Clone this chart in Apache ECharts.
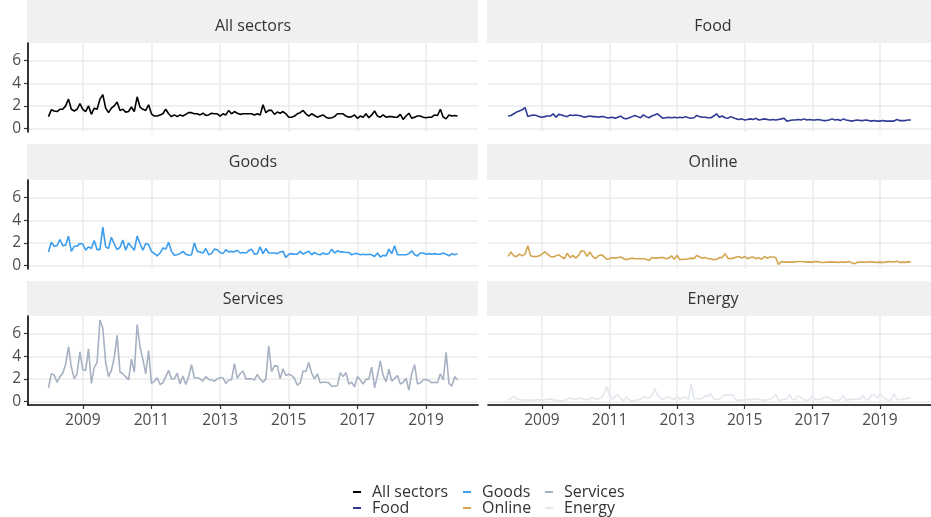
<!DOCTYPE html>
<html>
<head>
<meta charset="utf-8">
<script src="https://cdn.jsdelivr.net/npm/echarts@6/dist/echarts.min.js"></script>
<style>
  html, body { margin: 0; padding: 0; background: #fff; }
  #chart { width: 931px; height: 517px; }
</style>
</head>
<body>
<div id="chart"></div>
<script>
// monthly values, Jan 2008 .. Dec 2019
const startYear = 2008;
const sectors = ['All sectors', 'Food', 'Goods', 'Online', 'Services', 'Energy'];
const sectorColors = ['#000000', '#2f3a94', '#3b9ded', '#d4a550', '#a6b1c2', '#e3e7ee'];
const xTicks = [2009, 2011, 2013, 2015, 2017, 2019];
const yTicks = [0, 2, 4, 6];

const allSectors = [
  1.05, 1.65, 1.55, 1.5, 1.7, 1.7, 2.0, 2.6, 1.7, 1.55, 1.7, 2.2,
  1.7, 1.5, 2.0, 1.25, 1.8, 1.7, 2.6, 3.0, 1.8, 1.4, 1.8, 2.0,
  2.35, 1.6, 1.7, 1.45, 1.5, 1.9, 1.5, 2.8, 1.9, 1.7, 1.6, 2.1,
  1.3, 1.1, 1.1, 1.2, 1.3, 1.7, 1.3, 1.05, 1.2, 1.05, 1.2, 1.1,
  1.25, 1.4, 1.4, 1.3, 1.3, 1.2, 1.35, 1.15, 1.2, 1.35, 1.3, 1.3,
  1.1, 1.3, 1.2, 1.6, 1.3, 1.5, 1.35, 1.25, 1.3, 1.3, 1.3, 1.3,
  1.2, 1.3, 1.2, 2.1, 1.4, 1.6, 1.6, 1.25, 1.45, 1.35, 1.5, 1.3,
  1.0, 1.0, 1.1, 1.3, 1.4, 1.6, 1.3, 1.1, 1.3, 1.15, 1.0, 1.1,
  1.2, 1.0, 0.9, 0.95, 1.05, 1.3, 1.3, 1.3, 1.1, 1.0, 1.05, 1.2,
  0.9, 1.1, 1.0, 1.3, 0.95, 1.2, 1.55, 1.1, 1.0, 1.2, 1.0, 1.05,
  1.05, 1.0, 1.0, 1.25, 0.8, 1.1, 1.35, 0.9, 1.0, 1.1, 1.1, 1.0,
  0.95, 1.0, 1.0, 1.2, 1.15, 1.7, 1.0, 0.85, 1.2, 1.1, 1.15, 1.1
];
const food = [
  1.1, 1.15, 1.3, 1.45, 1.55, 1.65, 1.85, 1.05, 1.15, 1.2, 1.15, 1.05,
  1.0, 1.05, 1.1, 1.1, 1.3, 1.0, 1.25, 1.2, 1.1, 1.05, 1.2, 1.15,
  1.2, 1.15, 1.1, 1.0, 1.05, 1.1, 1.05, 1.05, 1.0, 1.05, 1.05, 0.95,
  0.95, 1.0, 0.9, 1.0, 1.1, 0.9, 0.85, 0.95, 1.05, 1.15, 1.05, 0.95,
  1.2, 1.05, 0.95, 1.1, 1.2, 1.3, 1.1, 0.9, 0.95, 1.0, 0.95, 1.0,
  0.95, 1.0, 0.95, 1.05, 0.95, 0.9, 0.95, 1.15, 1.05, 1.0, 1.0, 0.95,
  0.95, 1.1, 1.3, 1.0, 1.1, 0.95, 0.9, 1.05, 0.95, 0.85, 0.8, 0.85,
  0.75, 0.8, 0.85, 0.8, 0.9, 0.75, 0.8, 0.85, 0.8, 0.75, 0.8, 0.75,
  0.8, 0.85, 0.9, 0.65, 0.7, 0.75, 0.75, 0.8, 0.75, 0.85, 0.75, 0.8,
  0.75, 0.75, 0.8, 0.75, 0.7, 0.7, 0.75, 0.85, 0.75, 0.8, 0.7, 0.85,
  0.75, 0.7, 0.65, 0.7, 0.75, 0.7, 0.7, 0.75, 0.7, 0.65, 0.7, 0.65,
  0.65, 0.7, 0.65, 0.65, 0.65, 0.65, 0.8, 0.7, 0.7, 0.7, 0.75, 0.75
];
const goods = [
  1.2, 2.05, 1.7, 1.75, 2.3, 1.75, 1.8, 2.6, 1.25, 1.7, 1.7, 1.95,
  1.9, 1.35, 1.65, 1.5, 2.2, 1.4, 1.4, 3.4, 1.65, 1.5, 2.5, 1.9,
  1.4, 1.6, 2.25, 1.35, 2.0, 1.65, 1.35, 2.6, 1.95, 1.35, 1.95, 1.85,
  1.25, 1.05, 0.85, 1.1, 1.55, 1.45, 2.05, 1.25, 0.9, 0.95, 1.05, 1.25,
  1.0, 0.9, 0.95, 2.0, 1.25, 1.2, 1.1, 1.5, 0.95, 1.05, 1.45, 1.4,
  1.15, 1.05, 1.4, 1.2, 1.25, 1.2, 1.35, 1.1, 1.15, 1.1, 1.3, 1.45,
  1.0, 1.05, 1.65, 1.05, 1.5, 1.1, 1.1, 1.1, 1.05, 1.2, 1.25, 0.7,
  1.0, 1.05, 1.0, 1.0, 1.25, 1.0, 1.15, 1.25, 0.95, 1.15, 1.0, 0.95,
  1.1, 1.0, 1.05, 1.45, 1.1, 1.3, 1.2, 1.2, 1.15, 1.15, 0.95, 1.05,
  1.05, 0.95, 1.0, 0.95, 1.0, 0.95, 0.8, 1.1, 0.75, 0.9, 0.85, 1.45,
  1.05, 1.75, 0.95, 0.95, 0.95, 0.95, 1.05, 1.3, 0.95, 0.85, 1.1, 1.1,
  1.0, 1.05, 1.0, 1.05, 1.0, 1.0, 1.1, 1.0, 0.85, 1.05, 0.95, 1.05
];
const online = [
  0.8, 1.2, 0.85, 0.8, 1.0, 0.85, 1.0, 1.75, 0.85, 0.8, 0.8, 0.85,
  1.0, 1.2, 1.0, 0.8, 0.75, 0.85, 0.95, 0.75, 0.6, 1.1, 0.7, 0.9,
  0.65, 0.9, 1.3, 1.25, 0.8, 1.2, 0.8, 0.6, 0.85, 0.95, 0.8, 0.55,
  0.6, 0.7, 0.65, 0.7, 0.75, 0.6, 0.5, 0.6, 0.65, 0.6, 0.6, 0.6,
  0.6, 0.55, 0.45, 0.7, 0.65, 0.65, 0.7, 0.7, 0.6, 0.65, 0.85, 0.55,
  0.9, 0.5, 0.55, 0.55, 0.6, 0.65, 0.6, 0.9, 0.75, 0.65, 0.7, 0.6,
  0.6, 0.5, 0.55, 0.7, 0.7, 1.05, 0.65, 0.6, 0.65, 0.75, 0.8, 0.65,
  0.8, 0.6, 0.7, 0.75, 0.6, 0.7, 0.55, 0.8, 0.65, 0.75, 0.75, 0.7,
  0.1, 0.35, 0.3, 0.32, 0.3, 0.3, 0.32, 0.35, 0.35, 0.33, 0.3, 0.32,
  0.3, 0.35, 0.32, 0.28, 0.27, 0.3, 0.3, 0.32, 0.3, 0.28, 0.3, 0.3,
  0.28, 0.35, 0.25, 0.15, 0.28, 0.3, 0.3, 0.28, 0.32, 0.33, 0.3, 0.28,
  0.3, 0.28, 0.3, 0.35, 0.33, 0.3, 0.38, 0.28, 0.3, 0.28, 0.32, 0.3
];
const services = [
  1.2, 2.45, 2.35, 1.7, 2.2, 2.5, 3.3, 4.85, 3.05, 2.0, 2.45, 4.4,
  2.8, 2.75, 4.65, 1.6, 3.0, 3.45, 7.2, 6.5, 3.45, 2.2, 2.75, 3.9,
  5.85, 2.6, 2.45, 2.2, 1.9, 3.75, 2.6, 6.8, 4.8, 3.75, 2.45, 4.5,
  1.6, 1.8, 2.1, 1.5, 1.65, 2.2, 2.75, 2.0, 2.0, 2.5, 1.55, 2.25,
  1.5, 2.2, 3.25, 2.1, 2.1, 2.0, 1.8, 2.2, 1.95, 1.9, 1.8, 2.0,
  2.1, 2.1, 1.6, 1.9, 1.9, 3.35, 2.05, 2.45, 2.7, 2.0, 2.0, 2.0,
  1.9, 2.4, 2.0, 1.7, 2.0, 4.9, 2.65, 3.15, 3.15, 2.0, 2.9, 2.3,
  2.4, 2.3, 2.05, 1.45, 1.65, 2.7, 2.65, 3.45, 2.5, 2.0, 2.45, 1.65,
  1.7, 1.7, 1.65, 1.35, 1.35, 1.4, 2.55, 2.2, 2.55, 1.55, 1.7, 1.3,
  2.2, 1.9, 1.55, 1.95, 2.0, 3.05, 1.2, 2.3, 3.6, 2.3, 1.75, 2.85,
  1.8, 2.05, 2.3, 1.55, 1.7, 2.05, 1.0, 2.5, 3.25, 1.55, 1.65, 1.9,
  1.95, 1.85, 1.65, 1.7, 1.65, 2.45, 1.9, 4.35, 1.6, 1.35, 2.2, 1.9
];
const energy = [
  0.1, 0.3, 0.45, 0.25, 0.15, 0.15, 0.1, 0.15, 0.1, 0.1, 0.15, 0.15,
  0.1, 0.15, 0.2, 0.25, 0.15, 0.1, 0.1, 0.05, 0.1, 0.2, 0.3, 0.25,
  0.2, 0.25, 0.3, 0.2, 0.15, 0.25, 0.35, 0.2, 0.25, 0.3, 0.7, 1.3,
  0.55, 0.2, 0.45, 0.6, 0.25, 0.05, 0.4, 0.15, 0.05, 0.1, 0.15, 0.2,
  0.45, 0.35, 0.3, 0.5, 1.15, 0.6, 0.3, 0.2, 0.35, 0.4, 0.25, 0.2,
  0.4, 0.2, 0.3, 0.4, 0.15, 1.55, 0.25, 0.25, 0.2, 0.3, 0.5, 0.45,
  0.7, 0.2, 0.2, 0.2, 0.4, 0.6, 0.55, 0.6, 0.55, 0.1, 0.1, 0.15,
  0.1, 0.2, 0.15, 0.25, 0.2, 0.2, 0.15, 0.1, 0.15, 0.2, 0.35, 0.65,
  0.1, 0.15, 0.2, 0.25, 0.6, 0.15, 0.2, 0.5, 0.35, 0.15, 0.1, 0.15,
  0.5, 0.2, 0.15, 0.2, 0.3, 0.4, 0.35, 0.15, 0.1, 0.1, 0.2, 0.55,
  0.1, 0.15, 0.2, 0.2, 0.25, 0.2, 0.5, 0.2, 0.15, 0.55, 0.6, 0.3,
  0.65, 0.45, 0.2, 0.1, 0.15, 0.7, 0.2, 0.15, 0.2, 0.25, 0.3, 0.35
];
const sectorValues = [allSectors, food, goods, online, services, energy];

const FONT = 'Open Sans';
const colLeft = [28, 488];
const panelWidth = 450;
const panelTop = [43, 180, 316];
const panelHeight = 89;
const stripTop = [0, 144, 281];
const stripMid = [26, 162, 299];

const chart = echarts.init(document.getElementById('chart'), null, { renderer: 'canvas' });

let grids = [], xAxes = [], yAxes = [], series = [], graphics = [];

sectors.forEach((name, i) => {
  const col = i % 2;
  const row = Math.floor(i / 2);
  const bottomRow = row === 2;
  const leftCol = col === 0;

  grids.push({
    left: colLeft[col], top: panelTop[row],
    width: panelWidth, height: panelHeight,
    containLabel: false
  });

  xAxes.push({
    type: 'value', gridIndex: i,
    min: 2007.404, max: 2020.513,
    axisLine: { show: bottomRow, onZero: false, lineStyle: { color: '#000', width: 1.6 } },
    axisTick: { show: bottomRow, customValues: xTicks, length: 4, lineStyle: { color: '#333', width: 1.2 } },
    axisLabel: {
      show: bottomRow, customValues: xTicks, margin: 8,
      color: '#4d4d4d', fontSize: 15.5, fontFamily: FONT,
      formatter: v => String(v)
    },
    splitLine: { show: true, lineStyle: { color: '#ebebeb', width: 1.5 } }
  });

  yAxes.push({
    type: 'value', gridIndex: i,
    min: -0.31, max: 7.56,
    axisLine: { show: leftCol, onZero: false, lineStyle: { color: '#000', width: 1.6 } },
    axisTick: { show: leftCol, customValues: yTicks, length: 4, lineStyle: { color: '#333', width: 1.2 } },
    axisLabel: {
      show: leftCol, customValues: yTicks, margin: 7,
      color: '#4d4d4d', fontSize: 15.5, fontFamily: FONT
    },
    splitLine: { show: true, lineStyle: { color: '#ebebeb', width: 1.5 } }
  });

  series.push({
    name: name, type: 'line',
    xAxisIndex: i, yAxisIndex: i,
    showSymbol: false, symbol: 'none',
    color: sectorColors[i],
    lineStyle: { width: 1.6, color: sectorColors[i] },
    data: sectorValues[i].map((v, m) => [startYear + m / 12, v]),
    animation: false
  });

  // facet strip
  graphics.push({
    type: 'rect', z: -1,
    shape: { x: colLeft[col] - 1, y: stripTop[row], width: panelWidth + 1, height: panelTop[row] - stripTop[row] },
    style: { fill: '#f0f0f0' }
  });
  graphics.push({
    type: 'text',
    x: colLeft[col] + panelWidth / 2, y: stripMid[row],
    style: {
      text: name, fill: '#333333', font: '16px "' + FONT + '"',
      textAlign: 'center', textVerticalAlign: 'middle'
    }
  });
});

// one legend per column so entries run top-to-bottom like the original
function legendColumn(names, left) {
  return {
    orient: 'vertical', left: left, top: 484, padding: 0,
    data: names, icon: 'rect', itemWidth: 8, itemHeight: 2,
    itemGap: 0, selectedMode: false,
    textStyle: { fontSize: 16, fontFamily: FONT, color: '#333', lineHeight: 15.5, padding: [0, 0, 0, 6] }
  };
}

chart.setOption({
  backgroundColor: '#fff',
  animation: false,
  grid: grids,
  xAxis: xAxes,
  yAxis: yAxes,
  series: series,
  graphic: graphics,
  legend: [
    legendColumn(['All sectors', 'Food'], 353),
    legendColumn(['Goods', 'Online'], 463),
    legendColumn(['Services', 'Energy'], 545)
  ]
});
</script>
</body>
</html>
